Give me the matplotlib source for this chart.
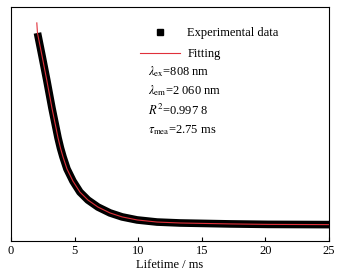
import matplotlib
matplotlib.use('Agg')
import matplotlib.pyplot as plt
from matplotlib.lines import Line2D

plt.rcParams['font.family'] = ['Liberation Serif', 'DejaVu Serif']
plt.rcParams['mathtext.fontset'] = 'stix'

# experimental decay (normalised intensity)
exp_t = [2.08, 2.44, 2.81, 3.22, 3.70, 3.89, 4.09, 4.40, 4.87, 5.42, 6.05,
         6.84, 7.78, 8.73, 9.91, 11.48, 13.29, 17.22, 20.2, 25.0]
exp_y = [0.889, 0.791, 0.688, 0.568, 0.440, 0.397, 0.359, 0.308, 0.256,
         0.209, 0.175, 0.145, 0.120, 0.103, 0.090, 0.081, 0.077, 0.073,
         0.071, 0.070]

# fitted curve
fit_t = [2.03, 2.08, 2.44, 2.81, 3.22, 3.70, 3.89, 4.09, 4.40, 4.87, 5.42,
         6.05, 6.84, 7.78, 8.73, 9.91, 11.48, 13.29, 17.22, 20.2, 25.0]
fit_y = [0.932, 0.889, 0.791, 0.688, 0.568, 0.440, 0.397, 0.359, 0.308,
         0.256, 0.209, 0.175, 0.145, 0.120, 0.103, 0.090, 0.081, 0.077,
         0.073, 0.071, 0.070]

xticks = [0, 5, 10, 15, 20, 25]
notes = [r'$\lambda_{\mathrm{ex}}$=808 nm',
         r'$\lambda_{\mathrm{em}}$=2 060 nm',
         r'$R^{2}$=0.997 8',
         r'$\tau_{\mathrm{mea}}$=2.75 ms']

fig = plt.figure(figsize=(3.44, 2.74), dpi=100)
ax = fig.add_axes([11 / 344, 1 - 241 / 274, 318 / 344, 234 / 274])

ax.plot(exp_t, exp_y, color='black', lw=5.5, solid_capstyle='butt',
        solid_joinstyle='round')
ax.plot(fit_t, fit_y, color='#e0303a', lw=0.8, solid_joinstyle='round')

ax.set_xlim(0, 25)
ax.set_ylim(0, 1)
ax.set_xticks(xticks)
ax.set_yticks([])
ax.tick_params(axis='x', direction='in', length=3, width=0.8, pad=3,
               labelsize=9)
for s in ax.spines.values():
    s.set_linewidth(0.8)
ax.set_xlabel('Lifetime / ms', fontsize=9, labelpad=1)

handles = [Line2D([], [], marker='s', ls='none', color='black', ms=4),
           Line2D([], [], color='#e0303a', lw=0.8)]
ax.legend(handles, ['Experimental data', 'Fitting'], loc='upper left',
          bbox_to_anchor=(0.405, 0.915), frameon=False, fontsize=9,
          handlelength=3.2, handletextpad=0.6, labelspacing=0.75,
          borderaxespad=0, borderpad=0)

for i, txt in enumerate(notes):
    ax.text(0.431, 0.726 - i * 0.084, txt, transform=ax.transAxes,
            fontsize=9, va='center', ha='left')

fig.savefig('out.png', dpi=100)
